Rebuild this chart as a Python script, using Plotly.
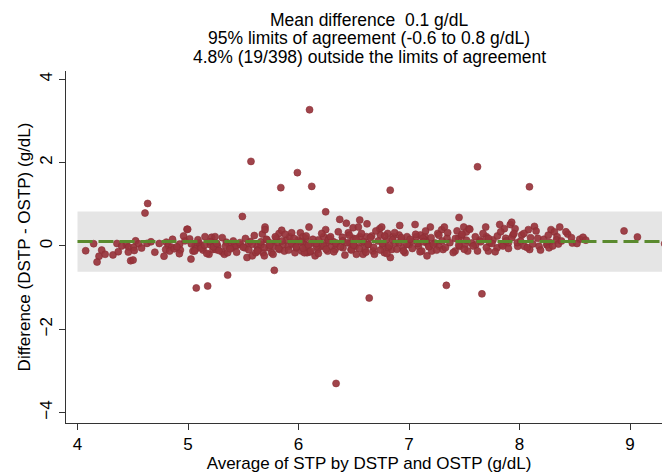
import plotly.graph_objects as go

# Average of STP (g/dL) and difference DSTP - OSTP (g/dL)
avg_a = [4.074,4.146,4.219,4.195,4.177,4.321,4.369,4.357,4.442,4.463,4.509,4.46,4.514,4.526,4.554,
         4.481,4.503,4.629,4.665,4.611,4.635,4.804,4.822,4.853,4.798,4.834,4.876,4.783,4.925,4.931,
         4.922,4.991,4.973]
diff_a = [-0.115,0.054,-0.1,-0.246,-0.385,-0.215,-0.138,0.06,0.03,-0.023,-0.031,-0.146,-0.108,0.123,0.054,
          -0.354,-0.338,0.062,0.1,0.79,1.02,0.092,0.008,-0.031,-0.085,-0.123,-0.069,-0.246,0.046,-0.1,
          -0.185,0.4,0.123]

avg_b = [4.997,5.015,5.027,5.045,5.064,5.07,5.1,5.118,5.154,5.136,5.19,5.202,5.214,5.226,5.245,5.251,
         5.269,5.311,5.329,5.347,5.359,5.377,5.401,5.42,5.437,5.492,5.474,5.516,5.534,5.546,5.564,5.582,
         5.613,5.625,5.637,5.661,5.673,5.679,5.691,5.697,5.697,5.715,5.733,5.745,5.757,5.776,5.781,5.8,
         5.812,5.824,5.83,5.848,5.86,5.872,5.89,5.908,5.92,5.938,5.95,5.968,5.98,5.999,6.017,6.029,6.041,
         6.065,6.077,5.359,5.075,5.178]
diff_b = [0.4,0.17,-0.315,-0.123,0.008,-0.069,0.07,-0.008,0.223,-0.1,-0.2,0.031,0.208,-0.085,0.223,-0.085,
          -0.008,-0.146,-0.2,0.092,-0.162,-0.008,-0.046,-0.008,0.008,0.708,0.031,-0.046,-0.277,0.069,0.108,-0.238,
          -0.162,-0.008,-0.085,0.031,0.285,-0.162,-0.238,0.454,0.392,0.146,-0.046,0.069,-0.162,-0.008,-0.585,0.185,
          0.069,0.3,-0.085,0.377,0.031,-0.123,0.146,-0.008,0.223,0.315,0.069,-0.162,-0.046,0.146,0.315,-0.123,0.069,
          0.185,-0.162,-0.7,-1.008,-0.962]

avg_c = [6.246,6.373,6.095,6.041,6.059,6.077,6.101,6.119,6.15,6.174,6.18,6.204,6.228,6.246,6.252,6.264,
         6.276,6.3,6.313,6.331,6.343,6.397,6.403,6.433,6.451,6.463,6.475,6.494,6.494,6.512,6.524,6.542,
         6.554,6.554,6.572,6.584,6.602,6.614,6.62,6.632,6.662,6.674,6.687,6.735,6.741,6.753,6.765,6.777,
         6.795,6.807,6.813,6.831,6.843,6.856,6.874,6.916,6.91,6.934,6.946,6.964,6.982,7.0,7.024,7.055,
         7.067,7.085,7.103,7.115,7.145,7.163,6.053,6.162]
diff_c = [0.82,0.638,0.454,0.223,0.031,-0.046,-0.146,0.069,-0.238,-0.085,0.146,-0.008,0.223,0.392,0.069,-0.123,
          0.185,-0.008,0.108,-0.085,0.069,0.208,-0.046,0.546,0.315,0.069,-0.085,0.438,0.185,-0.008,-0.2,0.454,
          0.623,0.223,0.069,-0.2,-0.085,0.223,0.531,0.031,0.238,-0.123,-0.2,0.415,0.262,0.454,-0.008,-0.162,
          0.146,0.3,-0.046,-0.277,-0.085,0.223,0.069,0.492,0.262,0.146,-0.046,-0.162,0.223,0.031,0.108,0.515,
          0.223,-0.008,0.262,-0.123,0.146,0.069,-0.162,-0.008]

avg_d = [7.453,7.193,7.145,7.157,7.163,7.181,7.205,7.236,7.26,7.272,7.296,7.308,7.32,7.344,7.417,7.435,
         7.447,7.459,7.477,7.495,7.507,7.519,7.531,7.543,7.567,7.604,7.64,7.694,7.7,7.718,7.73,7.76,7.797,
         7.821,7.839,7.863,7.875,7.899,7.917,7.929,7.941,7.96,7.984,8.02,8.044,8.08,8.092,8.135,8.165,8.177,
         8.249,7.127,7.338]
diff_d = [0.685,0.454,0.223,0.108,-0.238,-0.008,-0.123,0.069,0.3,-0.008,0.392,-0.085,0.454,0.185,-0.123,0.362,
          0.185,-0.008,0.238,0.454,0.031,0.338,-0.123,0.415,0.069,0.031,0.146,0.454,0.223,-0.123,0.069,0.146,-0.046,
          0.515,0.031,0.415,0.185,0.069,0.515,0.569,0.262,0.415,-0.008,0.262,-0.008,0.392,-0.085,0.469,0.185,-0.008,
          0.031,0.185,-0.946]

avg_e = [8.285,8.316,8.364,8.34,8.334,8.273,8.249,8.267,8.352,8.436,8.478,8.545,8.575,8.946,9.067,9.314]
diff_e = [0.392,0.338,0.454,0.223,0.146,0.085,0.031,-0.046,0.046,0.285,0.069,0.162,0.208,0.362,0.215,0.054]

# points hidden in the dense part of the cloud (overlapping markers)
avg_f = [5.03,5.06,5.09,5.12,5.15,5.17,5.2,5.23,5.26,5.28,5.31,5.34,5.38,5.41,5.44,5.47,5.5,5.52,5.55,5.58,
         5.6,5.63,5.66,5.69,5.71,5.74,5.77,5.79,5.82,5.85,5.88,5.91,5.94,5.96,5.98,
         6.02,6.04,6.07,6.09,6.11,6.13,6.16,6.18,6.21,6.23,6.25,6.27,6.29,6.32,6.34,6.36,6.38,6.4,6.42,6.44,
         6.46,6.48,6.5,6.52,6.55,6.57,6.59,6.61,6.63,6.65,6.68,6.7,6.72,6.74,6.76,6.78,6.8,6.82,6.85,6.87,
         6.89,6.91,6.93,6.95,6.98,
         7.01,7.03,7.06,7.08,7.1,7.13,7.15,7.18,7.2,7.22,7.25,7.27,7.3,7.33,7.35,7.37,7.4,7.42,7.45,7.48,
         7.5,7.52,7.55,7.58,7.6,7.62,7.65,7.67,7.7,7.72,7.75,7.78,7.8,7.83,7.85,7.88,7.9,7.93,7.95,7.98,
         8.01,8.04,8.07,8.1,8.12,8.15,8.19,8.22,8.26,8.3,8.38,8.42,8.47,8.52,8.6,
         4.25,4.4,4.58,4.7,4.74,4.86,4.9,4.96]
diff_f = [0.05,-0.12,0.15,-0.05,0.02,-0.18,0.1,-0.02,0.06,-0.11,0.2,0.0,-0.07,0.12,-0.15,0.08,-0.03,0.18,-0.09,0.04,
          0.25,-0.12,0.1,-0.04,0.16,0.02,-0.2,0.22,-0.06,0.12,0.28,-0.1,0.05,0.18,-0.02,
          0.1,-0.05,0.24,0.02,-0.12,0.16,0.06,-0.18,0.3,0.0,-0.08,0.14,0.22,-0.14,0.05,0.34,-0.02,0.12,-0.22,0.08,
          0.26,-0.1,0.02,0.17,-0.06,0.3,0.1,-0.15,0.04,0.2,-0.03,0.36,0.12,-0.1,0.06,0.24,-0.18,0.0,0.15,0.32,
          -0.08,0.08,0.2,-0.12,0.04,
          0.16,-0.06,0.28,0.06,-0.14,0.1,0.36,-0.02,0.2,0.04,-0.1,0.26,0.12,-0.04,0.32,0.08,-0.16,0.18,0.02,0.28,
          -0.08,0.14,0.4,0.0,0.22,-0.12,0.1,0.3,-0.04,0.18,0.06,-0.14,0.24,0.34,0.0,0.12,-0.06,0.2,0.3,0.08,
          0.12,0.3,-0.04,0.2,0.05,0.36,-0.1,0.16,0.26,0.0,0.12,0.34,0.2,0.06,0.14,
          -0.2,0.0,-0.05,-0.15,0.06,0.16,-0.02,0.24]

# points outside the limits of agreement
avg_out = [6.10,5.57,5.99,5.84,6.12,7.62,6.83,8.09,6.34,6.64,7.66]
diff_out = [3.27,2.03,1.76,1.40,1.43,1.90,1.34,1.42,-3.30,-1.25,-1.15]

avg = avg_a + avg_b + avg_c + avg_d + avg_e + avg_f + avg_out
diff = diff_a + diff_b + diff_c + diff_d + diff_e + diff_f + diff_out

mean_diff = 0.105
loa_low = -0.62
loa_high = 0.83
band_x = [4.0, 9.32]

title_lines = ["Mean difference  0.1 g/dL",
               "95% limits of agreement (-0.6 to 0.8 g/dL)",
               "4.8% (19/398) outside the limits of agreement"]
x_ticks = [4, 5, 6, 7, 8, 9]
y_ticks = [-4, -2, 0, 2, 4]

FONT = "Liberation Sans, Arial, sans-serif"

fig = go.Figure()
fig.add_shape(type="rect", x0=band_x[0], x1=band_x[1], y0=loa_low, y1=loa_high,
              fillcolor="#e5e5e5", line=dict(width=0), layer="below")
fig.add_trace(go.Scatter(x=avg, y=diff, mode="markers",
                         marker=dict(size=7, color="rgba(152,52,60,0.92)",
                                     line=dict(width=0.6, color="rgba(140,45,52,1)")),
                         showlegend=False, hoverinfo="x+y"))
fig.add_trace(go.Scatter(x=band_x, y=[mean_diff, mean_diff], mode="lines",
                         line=dict(color="#5a8a2e", width=3, dash="15px,6px"),
                         showlegend=False, hoverinfo="skip"))

# title lines (centres at about 11, 30 and 49 px from the top)
ys = [1.146, 1.0925, 1.0386]
for t, yy in zip(title_lines, ys):
    fig.add_annotation(text=t, xref="paper", yref="paper", x=0.5, y=yy, showarrow=False,
                       xanchor="center", yanchor="middle",
                       font=dict(family=FONT, size=17.5, color="#000000"))

fig.update_layout(
    width=670, height=474,
    margin=dict(l=58, r=6, t=62.6, b=58.6),
    paper_bgcolor="white", plot_bgcolor="white",
    font=dict(family=FONT, size=17, color="#000000"),
)
fig.update_xaxes(range=[3.896, 9.38], tickvals=x_ticks, ticks="outside", ticklen=6,
                 tickcolor="#333333", showline=True, linecolor="#333333", linewidth=1,
                 showgrid=False, zeroline=False,
                 title=dict(text="Average of STP by DSTP and OSTP (g/dL)", standoff=2,
                            font=dict(family=FONT, size=17)),
                 tickfont=dict(family=FONT, size=17))
fig.update_yaxes(range=[-4.25, 4.2], tickvals=y_ticks, ticks="outside", ticklen=6,
                 tickcolor="#333333", showline=True, linecolor="#333333", linewidth=1,
                 showgrid=False, zeroline=False, tickangle=-90,
                 title=dict(text="Difference (DSTP - OSTP) (g/dL)", standoff=2,
                            font=dict(family=FONT, size=17)),
                 tickfont=dict(family=FONT, size=17))

fig.write_html("out.html")
